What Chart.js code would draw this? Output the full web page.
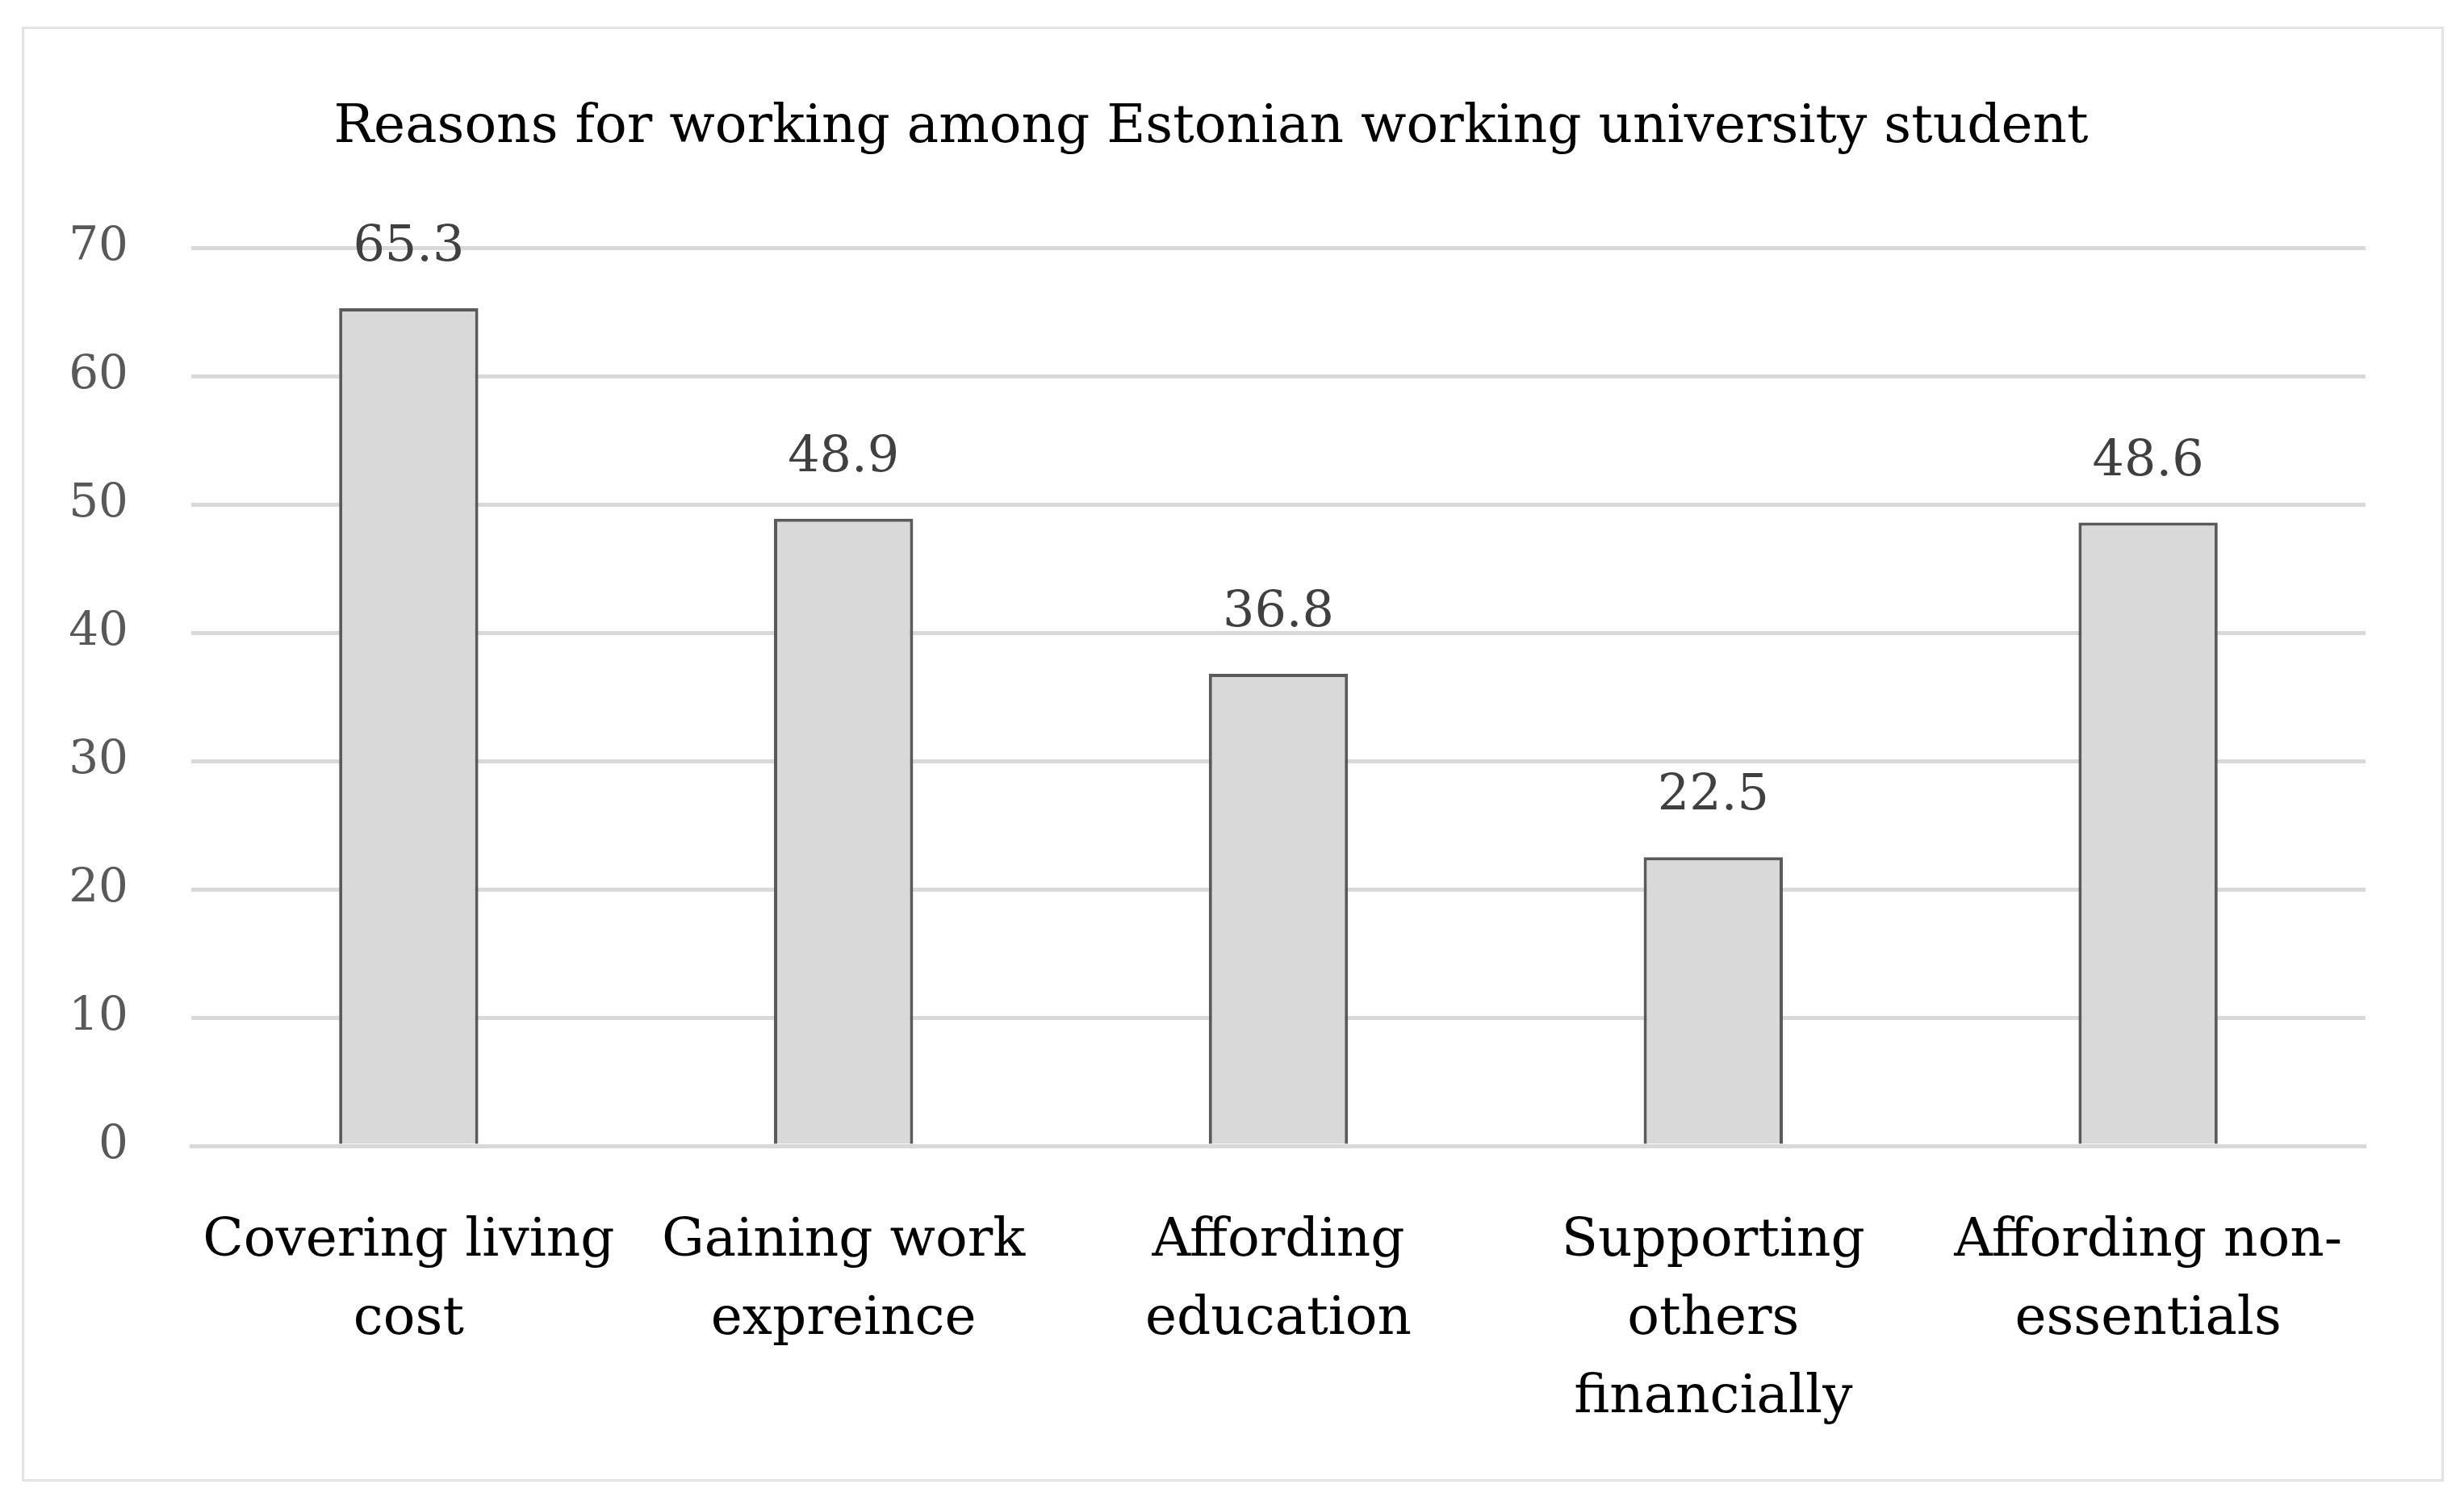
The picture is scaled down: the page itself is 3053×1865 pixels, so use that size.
<!DOCTYPE html>
<html>
<head>
<script src="https://cdn.jsdelivr.net/npm/chart.js@4"></script>
<style>
body { margin: 0; background: #fff; }
#box { position: absolute; left: 27px; top: 33px; width: 2995px; height: 1797px; border: 3px solid #e3e3e3; }
</style>
</head>
<body>
<div id="box"><canvas id="chart"></canvas></div>
<script>
const categories = [
    ['Covering living', 'cost'],
    ['Gaining work', 'expreince'],
    ['Affording', 'education'],
    ['Supporting', 'others', 'financially'],
    ['Affording non-', 'essentials']
];
const values = [65.3, 48.9, 36.8, 22.5, 48.6];
const tickValues = [0, 10, 20, 30, 40, 50, 60, 70];

const font = 'DejaVu Serif';

// draws the numbers above each bar
const barLabels = {
    id: 'barLabels',
    afterDatasetsDraw(chart) {
        let ctx = chart.ctx;
        let meta = chart.getDatasetMeta(0);
        ctx.save();
        ctx.font = '62px "' + font + '"';
        ctx.fillStyle = '#404040';
        ctx.textAlign = 'center';
        ctx.textBaseline = 'bottom';
        meta.data.forEach((bar, i) => {
            ctx.fillText(values[i].toFixed(1), bar.x, bar.y - 44);
        });
        ctx.restore();
    }
};

new Chart(document.getElementById('chart'), {
    type: 'bar',
    data: {
        labels: categories,
        datasets: [{
            data: values,
            backgroundColor: '#d9d9d9',
            borderColor: '#5a5a5a',
            borderWidth: 4,
            categoryPercentage: 1,
            barPercentage: 0.32
        }]
    },
    options: {
        responsive: true,
        maintainAspectRatio: false,
        animation: false,
        layout: { padding: { left: 40, right: 94, top: 0, bottom: 0 } },
        plugins: {
            legend: { display: false },
            tooltip: { enabled: false },
            title: {
                display: true,
                text: 'Reasons for working among Estonian working university student',
                color: '#000',
                font: { family: font, size: 66, weight: 'normal' },
                padding: { top: 83, bottom: 109 }
            }
        },
        scales: {
            x: {
                grid: { display: false },
                border: { color: '#d9d9d9', width: 5 },
                ticks: {
                    color: '#000',
                    font: { family: font, size: 66, lineHeight: 1.47 },
                    padding: 62,
                    maxRotation: 0,
                    autoSkip: false
                },
                afterFit(scale) { scale.height = 413; }
            },
            y: {
                min: 0,
                max: 70,
                afterBuildTicks(scale) { scale.ticks = tickValues.map(v => ({ value: v })); },
                grid: { color: '#d9d9d9', lineWidth: 5, drawTicks: false },
                border: { display: false },
                ticks: {
                    color: '#595959',
                    font: { family: font, size: 58 },
                    padding: 78
                },
                afterFit(scale) { scale.width = 167; }
            }
        }
    },
    plugins: [barLabels]
});
</script>
</body>
</html>
